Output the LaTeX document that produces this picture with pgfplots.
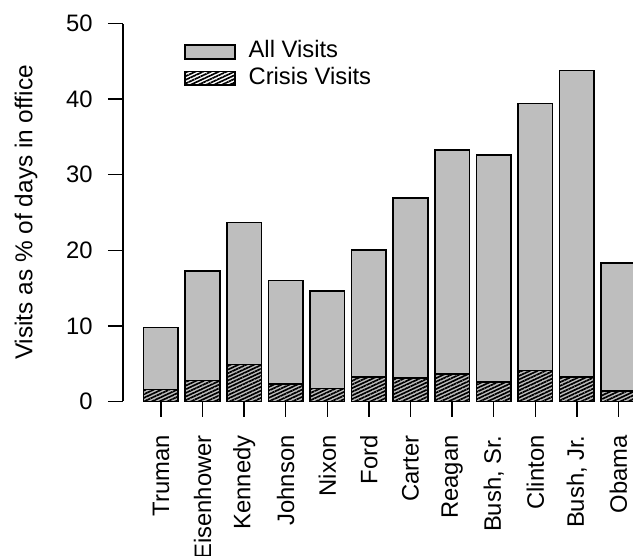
\documentclass[border=0pt]{standalone}
\usepackage{fontspec}
\setmainfont{Liberation Sans}
\usepackage{pgfplots}
\pgfplotsset{compat=1.18}
\usetikzlibrary{patterns.meta}
\definecolor{barg}{RGB}{190,190,190}
\pgfplotsset{mylegimg/.style={legend image code/.code={\draw[##1] (0pt,-3.4pt) rectangle (25pt,3.4pt);}}}
\begin{document}
\fontsize{11.9}{14}\selectfont
\begin{tikzpicture}
\begin{axis}[name=ax, scale only axis, width=255pt, height=204.1pt,
  font=\fontsize{11.9}{14}\selectfont,
  /pgf/number format/assume math mode=true,
  xmin=-0.913, xmax=11.35, ymin=-2, ymax=52, clip=false,
  axis x line*=bottom, axis y line*=left,
  x axis line style={draw=none},
  y axis line style={-, line width=0.75pt, shorten <=7.56pt, shorten >=7.56pt},
  tick align=outside, major tick length=7.5pt,
  tick style={black, line width=0.75pt},
  every x tick/.append style={yshift=7.5pt},
  xtick={0,1,2,3,4,5,6,7,8,9,10,11},
  xticklabels={Truman,Eisenhower,Kennedy,Johnson,Nixon,Ford,Carter,Reagan,{Bush, Sr.},Clinton,{Bush, Jr.},Obama},
  xticklabel style={rotate=90, anchor=east, inner sep=1.7pt},
  ytick={0,10,20,30,40,50},
  yticklabel style={inner sep=0pt, xshift=-7.5pt},
  ylabel={Visits as \% of days in office},
  ylabel style={at={(axis description cs:-0.190,0.5)}, anchor=center, font=\fontsize{12.2}{14}\selectfont},
  legend style={draw=none, fill=none, at={(0.1196,0.920)}, anchor=north west, inner sep=0pt,
    nodes={inner sep=0pt, text height=8.2pt, text depth=2.25pt}, row sep=2.8pt, column sep=6.3pt},
  legend cell align=left,
]
\addplot[ybar, bar width=0.833, bar shift=0pt, fill=barg, draw=black, line width=0.8pt, mylegimg]
  coordinates {(0,9.8) (1,17.3) (2,23.7) (3,16.0) (4,14.6) (5,20.0) (6,26.9) (7,33.3) (8,32.6) (9,39.4) (10,43.8) (11,18.3)};
\addlegendentry{All Visits}
\addplot[ybar, bar width=0.833, bar shift=0pt, draw=black, line width=0.8pt,
  pattern={Lines[angle=25, distance=1.65pt, line width=0.85pt]}, mylegimg]
  coordinates {(0,1.6) (1,2.8) (2,4.9) (3,2.3) (4,1.7) (5,3.2) (6,3.1) (7,3.6) (8,2.6) (9,4.1) (10,3.2) (11,1.4)};
\addlegendentry{Crisis Visits}
\end{axis}
\pgfresetboundingbox
\useasboundingbox ([xshift=-61.5pt,yshift=-69.7pt]ax.south west) rectangle ([yshift=4.2pt]ax.north east);
\end{tikzpicture}
\end{document}
